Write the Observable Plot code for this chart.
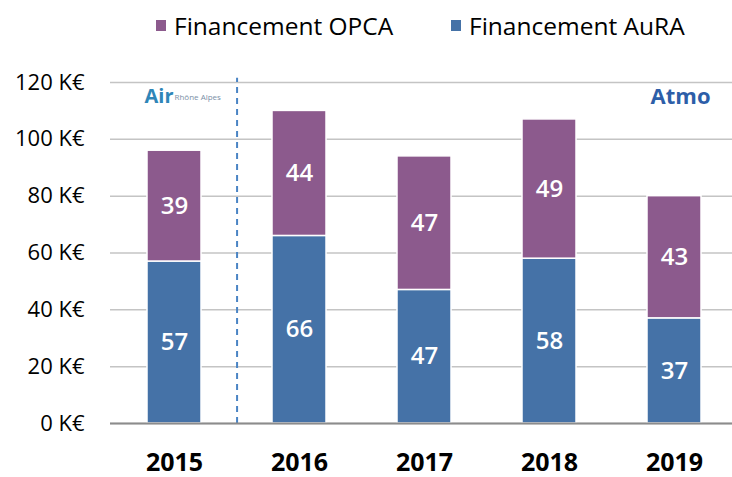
<!DOCTYPE html>
<html>
<head>
<meta charset="utf-8">
<script src="https://cdn.jsdelivr.net/npm/d3@7"></script>
<script src="https://cdn.jsdelivr.net/npm/@observablehq/plot@0.6"></script>
<style>
  body { margin: 0; background: #fff; font-family: "Open Sans", sans-serif; }
  #wrap { width: 732px; height: 477px; position: relative; }
  #legend { position: relative; height: 55px; font-size: 24.5px; color: #000; }
  .item { position: absolute; top: 9px; display: flex; align-items: center; }
  .sw { width: 10px; height: 11px; margin-right: 8px; }
</style>
</head>
<body>
<div id="wrap">
  <div id="legend"></div>
  <div id="chart"></div>
</div>
<script>
const years = ["2015", "2016", "2017", "2018", "2019"];
const aura = [57, 66, 47, 58, 37];
const opca = [39, 44, 47, 49, 43];
const seriesNames = ["Financement AuRA", "Financement OPCA"];
const seriesColors = ["#4572a7", "#8c5a8d"];
const yTicks = [0, 20, 40, 60, 80, 100, 120];

const data = [];
years.forEach((y, i) => {
  data.push({year: y, series: seriesNames[0], value: aura[i]});
  data.push({year: y, series: seriesNames[1], value: opca[i]});
});

// legend (OPCA first, as in reference)
const legend = document.getElementById("legend");
[[seriesNames[1], seriesColors[1], 156], [seriesNames[0], seriesColors[0], 451]].forEach(([name, col, left]) => {
  const it = document.createElement("div");
  it.className = "item";
  it.style.left = left + "px";
  it.innerHTML = `<span class="sw" style="background:${col}"></span><span>${name}</span>`;
  legend.appendChild(it);
});

const step = 627 / 5.01;
const chart = Plot.plot({
  width: 732,
  height: 422,
  marginTop: 27,
  marginBottom: 54,
  marginLeft: 110,
  marginRight: 0,
  style: {fontFamily: "Open Sans, sans-serif", background: "white", color: "#000"},
  x: {domain: years, range: [110, 737], paddingInner: 0.57, paddingOuter: 0.29, label: null},
  y: {domain: [0, 120], label: null},
  color: {domain: seriesNames, range: seriesColors},
  marks: [
    Plot.ruleY(yTicks, {stroke: "#c4c4c4", strokeWidth: 1.5}),
    Plot.barY(data, {x: "year", y: "value", fill: "series", z: "series", stroke: "white", strokeWidth: 1.5, order: seriesNames}),
    Plot.text(data, Plot.stackY({x: "year", y: "value", z: "series", order: seriesNames, text: d => String(d.value), fill: "white", fontSize: 24, fontWeight: 600})),
    Plot.ruleX(["2015"], {dx: step / 2, y1: 0, y2: 121.5, stroke: "#4a84c4", strokeWidth: 2, strokeDasharray: "6,5"}),
    Plot.ruleX([0], {frameAnchor: "left", stroke: "#8c8c8c", strokeWidth: 1.5}),
    Plot.ruleY([0], {stroke: "#8c8c8c", strokeWidth: 2}),
    Plot.axisY(yTicks, {tickFormat: d => d + " K€", tickSize: 0, tickPadding: 26, fontSize: 22, anchor: "left"}),
    Plot.axisX({tickSize: 0, tickPadding: 30, fontSize: 25, fontWeight: 700}),
    // logos approximated as text
    Plot.text(["Air"], {frameAnchor: "top-left", dx: 34, dy: 6, fontSize: 20, fontWeight: 700, fill: "#2f86b8", text: d => d}),
    Plot.text(["Rhône Alpes"], {frameAnchor: "top-left", dx: 64, dy: 12, fontSize: 8, fill: "#7a8fa6", text: d => d}),
    Plot.text(["Atmo"], {frameAnchor: "top-right", dx: -22, dy: 6, fontSize: 22, fontWeight: 700, fill: "#2d5ea8", text: d => d})
  ]
});
document.getElementById("chart").appendChild(chart);
</script>
</body>
</html>
